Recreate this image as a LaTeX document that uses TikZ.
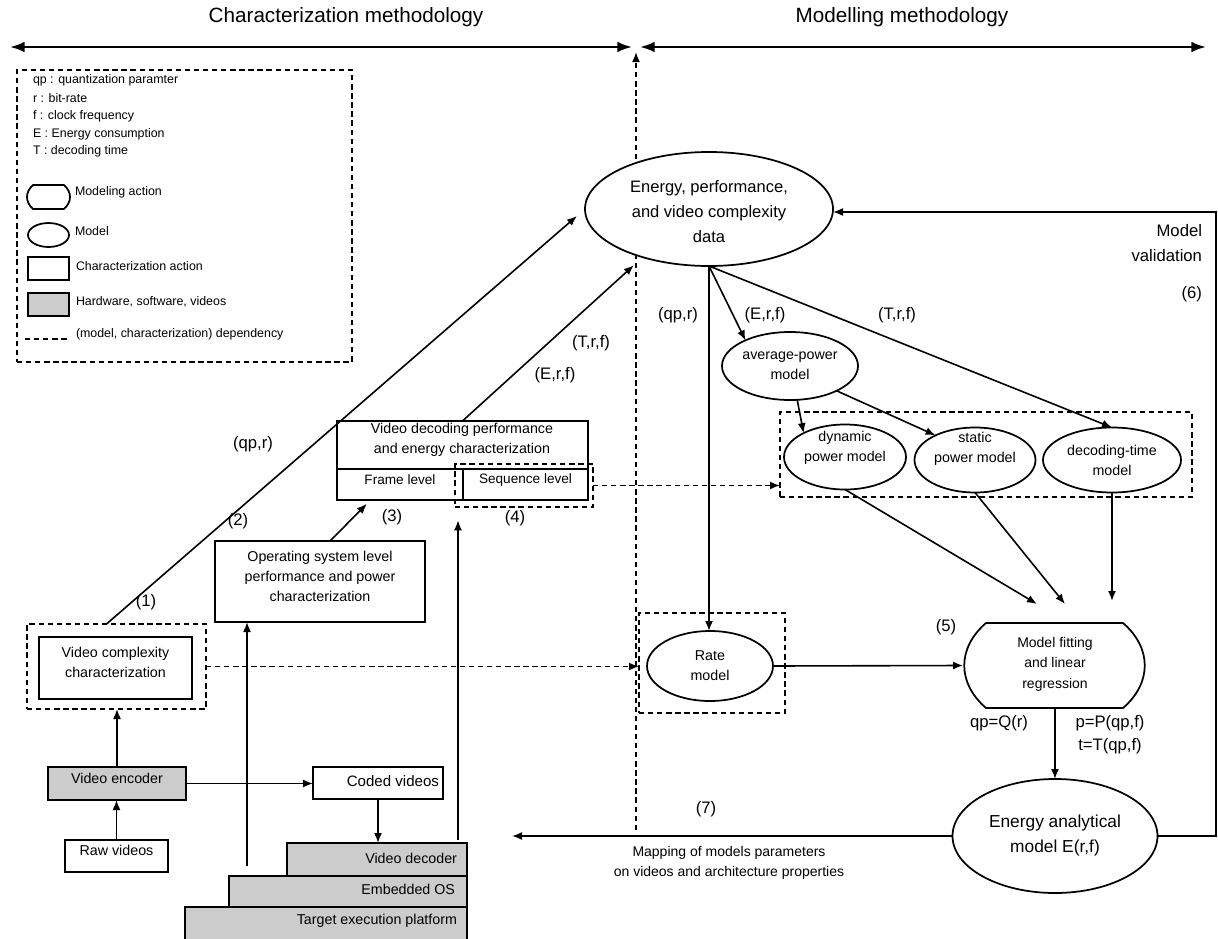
\documentclass[tikz,border=0pt]{standalone}
\usepackage{fontspec}
\setmainfont{Liberation Sans}
\usetikzlibrary{arrows.meta,shapes.geometric,fit}
\begin{document}
\begin{tikzpicture}[x=0.75pt,y=-0.75pt,
  every node/.style={inner sep=0pt, outer sep=0pt},
  fs/.style={font=\fontsize{10.7}{15}\selectfont},
  box/.style={draw, line width=1.5pt, align=center, fs},
  hw/.style={box, fill=black!20},
  dbox/.style={draw, line width=1.3pt, dash pattern=on 4pt off 2.8pt},
  mdl/.style={draw, ellipse, line width=1.3pt, fill=white, align=center, fs},
  arr/.style={-{Latex[length=7.5pt,width=6pt]}, line width=1.2pt},
  darr/.style={arr, dash pattern=on 4pt off 2.8pt, line width=1.3pt},
  bigarr/.style={{Latex[length=11pt,width=8pt]}-{Latex[length=11pt,width=8pt]}, line width=1.7pt},
  lbl/.style={font=\fontsize{12.5}{17.25}\selectfont, align=center},
  leg/.style={font=\fontsize{9.3}{11}\selectfont, anchor=west},
  txt/.style={fs, align=center},
]
\useasboundingbox (0,0) rectangle (1218,939);

% main dashed separator
\coordinate (dbot) at (636,830);
\coordinate (dtop) at (636,52);
\draw[darr] (dbot) -- (dtop);

% titles and top arrows
\node[font=\fontsize{15.5}{18}\selectfont] (t1) at (346,17) {Characterization methodology};
\node[font=\fontsize{15.5}{18}\selectfont] (t2) at (902,17) {Modelling methodology};
\coordinate (l1) at (10,47);
\coordinate (l2) at (632,47);
\coordinate (r1) at (640,47);
\coordinate (r2) at (1206,47);
\draw[bigarr] (l1) -- (l2);
\draw[bigarr] (r1) -- (r2);

% legend
\node[dbox, fit={(17,70) (352,362)}] (legend) {};
\node[leg] (lg1) at (33,80) {qp : quantization paramter};
\node[leg] (lg2) at (33,98) {r : bit-rate};
\node[leg] (lg3) at (33,116) {f : clock frequency};
\node[leg] (lg4) at (33,134) {E : Energy consumption};
\node[leg] (lg5) at (33,151) {T : decoding time};
\draw[line width=1.3pt] (33,185) -- (64,185) .. controls (72,192) and (72,202) .. (64,209) -- (33,209) .. controls (25,202) and (25,192) .. (33,185) -- cycle;
\node[leg] (lg6) at (75,192) {Modeling action};
\node[mdl, minimum width=30.75pt, minimum height=18pt] (lgm) at (48.5,235) {};
\node[leg] (lg7) at (75,231) {Model};
\node[box, fit={(28,257) (69,280)}] (lgc) {};
\node[leg] (lg8) at (76,266) {Characterization action};
\node[hw, fit={(28,293) (69,316)}] (lgh) {};
\node[leg] (lg9) at (76,302) {Hardware, software, videos};
\coordinate (lgd1) at (25,339);
\coordinate (lgd2) at (69,339);
\draw[dash pattern=on 4pt off 2.8pt, line width=1.3pt] (lgd1) -- (lgd2);
\node[leg] (lg10) at (76,334) {(model, characterization) dependency};

% characterization side
\node[box, fit={(39,637) (192,699)}] (vcc) {Video complexity\\characterization};
\node[dbox, fit={(27,624) (206,709)}] (vccd) {};
\node[box, fit={(215,541) (425,622)}] (os) {Operating system level\\performance and power\\characterization};
\node[box, fill=white, fit={(337,421) (588,500)}] (vd) {};
\node[txt] (vdtx) at (462,440) {Video decoding performance\\and energy characterization};
\node[box, fit={(337,469) (463,500)}, font=\fontsize{10.2}{12}\selectfont] (fr) {Frame level};
\node[box, fit={(463,469) (588,500)}, font=\fontsize{10.2}{12}\selectfont] (sq) {Sequence level};
\node[dbox, fit={(455,464) (593,507)}] (d4) {};
\node[hw, fit={(48,767) (186,800)}] (enc) {Video encoder};
\node[box, fit={(65,840) (168,872)}] (raw) {Raw videos};
\node[box, fit={(313,767) (443,799)}] (cod) {};
\node[anchor=east, font=\fontsize{11.3}{14}\selectfont] (codtx) at (439,781) {Coded videos};
\node[hw, fit={(185,907) (467,945)}] (tep) {};
\node[hw, fit={(229,876) (467,907)}] (eos) {};
\node[hw, fit={(287,843) (467,876)}] (vdec) {};
\node[txt, anchor=east] (teptx) at (457,921) {Target execution platform};
\node[txt, anchor=east] (eostx) at (455,889) {Embedded OS};
\node[txt, anchor=east] (vdectx) at (457,858) {Video decoder};

% modelling side
\node[mdl, minimum width=186pt, minimum height=85.5pt] (E) at (709,209) {};
\node[font=\fontsize{12.4}{18.75}\selectfont, align=center] (Etx) at (709,212) {Energy, performance,\\and video complexity\\data};
\node[mdl, minimum width=102pt, minimum height=51pt] (avg) at (790,366) {average-power\\model};
\node[dbox, fit={(780,412) (1192,497)}] (grp) {};
\node[mdl, minimum width=91.5pt, minimum height=48.75pt] (dyn) at (845,457) {};
\node[txt] (dyntx) at (845,448) {dynamic\\power model};
\node[mdl, minimum width=90.75pt, minimum height=48.75pt] (sta) at (975,460) {};
\node[txt] (statx) at (975,449) {static\\power model};
\node[mdl, minimum width=103.5pt, minimum height=48.75pt] (dec) at (1112,460) {decoding-time\\model};
\node[dbox, fit={(639,613) (785,713)}] (rated) {};
\node[mdl, minimum width=94.5pt, minimum height=52.5pt] (rate) at (710,666) {Rate\\model};
\node[fit={(963,623) (1147,708)}] (fitn) {};
\draw[line width=1.3pt] (986,623) -- (1123,623) .. controls (1152,648) and (1152,683) .. (1123,708) -- (986,708) .. controls (957,683) and (957,648) .. (986,623) -- cycle;
\node[txt, font=\fontsize{10.5}{15.4}\selectfont] (fittx) at (1055,664) {Model fitting\\and linear\\regression};
\node[mdl, minimum width=153.75pt, minimum height=85.5pt, font=\fontsize{13}{18.75}\selectfont] (ana) at (1055,836) {Energy analytical\\model E(r,f)};

% connectors (characterization)
\draw[arr, shorten >=8pt] ([xshift=-7.5pt]vccd.north) -- (E.west);
\draw[arr, shorten >=9pt] (vd.north) -- (E.216);
\draw[arr, shorten >=4pt] ([xshift=7.5pt]os.north) -- ([xshift=-22pt]fr.south);
\coordinate (cos) at (247,866);
\draw[arr] (cos) -- (cos |- os.south);
\coordinate (c4) at (458,840);
\draw[arr, shorten >=10pt] (c4) -- (c4 |- d4.south);
\draw[arr] (raw.north) -- (raw.north |- enc.south);
\draw[arr] (enc.north) -- (enc.north |- vccd.south);
\draw[arr] (enc.east) -- (enc.east -| cod.west);
\draw[arr] (cod.south) -- (cod.south |- vdec.north);
\draw[darr] (vccd.east) -- (vccd.east -| rated.west);
\draw[darr] (d4.east) -- (d4.east -| grp.west);

% connectors (modelling)
\draw[arr] (E.south) -- (E.south |- rate.north);
\draw[arr] (E.south) -- (avg.150);
\draw[arr] (E.south) -- (dec.north);
\draw[arr] (avg.-78) -- (dyn.150);
\draw[arr] (avg.-28) -- (sta.148);
\coordinate (f1) at (1037,604);
\coordinate (f2) at (1065,604);
\coordinate (f3) at (1112,601);
\draw[arr] (dyn.south) -- (f1);
\draw[arr] (sta.south) -- (f2);
\draw[arr] (dec.south) -- (f3);
\draw[arr] (rate.east) -- (fitn.west);
\draw[arr] (fitn.south) -- (ana.north);
\coordinate (cr) at (1216,212);
\draw[arr] (ana.east) -| (cr) -- (E.east |- cr);
\coordinate (cl) at (512,836);
\draw[arr] (ana.west) -- (cl);

% labels
\node[lbl] (L1) at (146,602) {(1)};
\node[lbl] (L2) at (238,521) {(2)};
\node[lbl] (L3) at (392,517) {(3)};
\node[lbl] (L4) at (515,518) {(4)};
\node[lbl] (L5) at (946,627) {(5)};
\node[lbl, anchor=east] (L6) at (1202,294) {(6)};
\node[lbl] (L7) at (706,809) {(7)};
\node[lbl] (qpl) at (253,444) {(qp,r)};
\node[lbl] (erfl) at (555,375) {(E,r,f)};
\node[lbl] (trfl) at (591,343) {(T,r,f)};
\node[lbl] (qpr) at (678,315) {(qp,r)};
\node[lbl] (erfr) at (765,315) {(E,r,f)};
\node[lbl] (trfr) at (897,315) {(T,r,f)};
\node[lbl, anchor=east, align=right, font=\fontsize{12.5}{18.75}\selectfont] (mv) at (1202,243.5) {Model\\validation};
\node[lbl] (qpq) at (999,723) {qp=Q(r)};
\node[lbl] (ppt) at (1110,734.5) {p=P(qp,f)\\t=T(qp,f)};
\node[txt, font=\fontsize{10.5}{15}\selectfont] (map) at (729,863) {Mapping of models parameters\\on videos and architecture properties};
\end{tikzpicture}
\end{document}
